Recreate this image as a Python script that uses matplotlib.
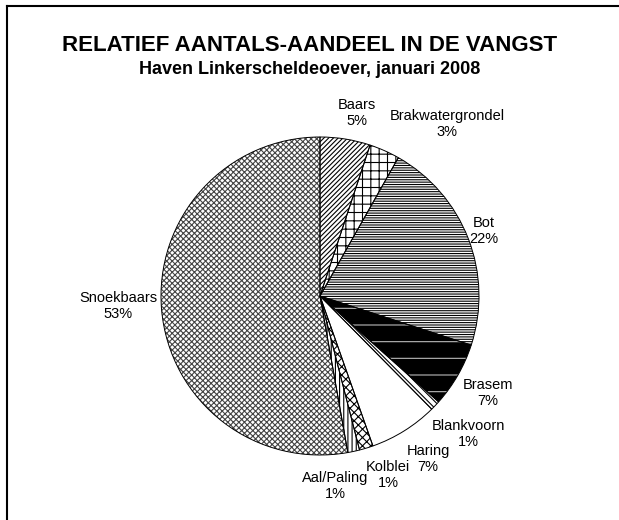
import matplotlib.pyplot as plt
from matplotlib.lines import Line2D

plt.rcParams['font.family'] = ['Liberation Sans', 'DejaVu Sans']
plt.rcParams['hatch.linewidth'] = 0.8

# data (share of catch, %), clockwise from 12 o'clock
species = ['Baars', 'Brakwatergrondel', 'Bot', 'Brasem', 'Blankvoorn',
           'Haring', 'Kolblei', 'Aal/Paling', 'Snoekbaars']
shares = [5.1, 3.1, 21.8, 6.6, 1.0, 7.0, 1.4, 1.2, 52.8]
pct_labels = ['5%', '3%', '22%', '7%', '1%', '7%', '1%', '1%', '53%']

# fill / hatch style per slice
faces = ['white', 'white', 'white', 'black', 'white', 'white', 'white', 'white', 'white']
hatches = ['///////', '++', '-------', '-', '\\\\\\\\\\', '', 'xxxx', '||||', 'xxxxxx']
hatch_cols = ['black', 'black', 'black', '#bbbbbb', 'black', 'black', 'black', 'black', '#444444']

# label centres in pixels (x from left, y from top)
label_pos = [(357, 113), (447, 124), (484, 231), (488, 393), (468, 434),
             (428, 459), (388, 475), (335, 486), (118, 306)]

W, H = 619, 520
fig = plt.figure(figsize=(W / 100, H / 100), dpi=100)

# pie centre (320, 296), radius 159 px
cx, cy, r = 320, 296, 159
ax = fig.add_axes([(cx - r) / W, (H - cy - r) / H, 2 * r / W, 2 * r / H])

wedges, _ = ax.pie(shares, startangle=90, counterclock=False,
                   wedgeprops=dict(linewidth=0))
for w, fc, h, hc in zip(wedges, faces, hatches, hatch_cols):
    w.set_facecolor(fc)
    w.set_hatch(h)
    w.set_edgecolor(hc)

# outlines
ax.pie(shares, startangle=90, counterclock=False,
       wedgeprops=dict(fill=False, edgecolor='black', linewidth=0.7))
ax.set_xlim(-1, 1)
ax.set_ylim(-1, 1)
ax.axis('off')

for name, pct, (x, y) in zip(species, pct_labels, label_pos):
    fig.text(x / W, 1 - y / H, name + '\n' + pct, ha='center', va='center',
             fontsize=10.5, linespacing=1.15)

fig.text(0.5, 1 - 51 / H, 'RELATIEF AANTALS-AANDEEL IN DE VANGST',
         ha='center', va='baseline', fontsize=16, fontweight='bold')
fig.text(0.5, 1 - 74 / H, 'Haven Linkerscheldeoever, januari 2008',
         ha='center', va='baseline', fontsize=13, fontweight='bold')

# frame (left and top edges only, rest is cut off)
fig.add_artist(Line2D([7 / W, 7 / W], [0, 1 - 6 / H], color='black', lw=1.5,
                      transform=fig.transFigure))
fig.add_artist(Line2D([7 / W, 1], [1 - 6 / H, 1 - 6 / H], color='black', lw=1.5,
                      transform=fig.transFigure))

fig.savefig('out.png', dpi=100, facecolor='white')
